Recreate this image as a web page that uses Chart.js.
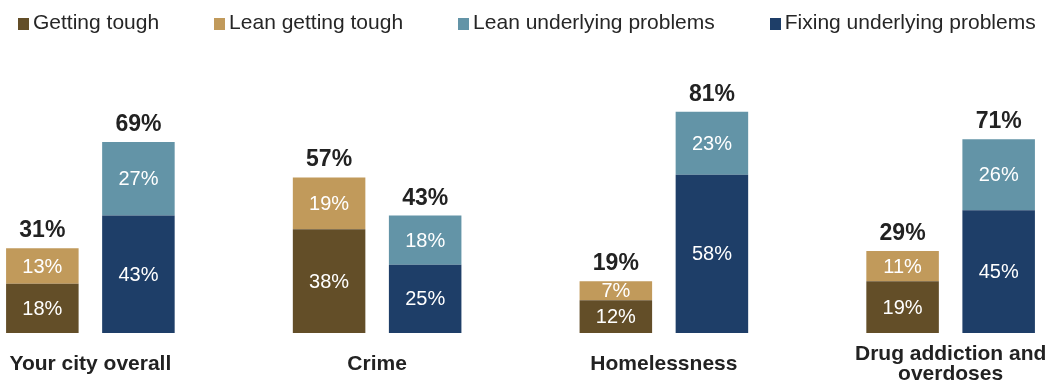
<!DOCTYPE html>
<html>
<head>
<meta charset="utf-8">
<script src="https://cdn.jsdelivr.net/npm/chart.js@4"></script>
<style>
  body { margin: 0; background: #fff; }
  #wrap { position: relative; width: 1045px; height: 386px; overflow: hidden; font-family: "Liberation Sans", Arial, sans-serif; }
  #chart { position: absolute; left: -53px; top: 0; }
  #legend { position: absolute; left: 18px; top: 10px; display: flex; gap: 55px; font-size: 21px; line-height: 24px; color: #262626; white-space: nowrap; }
  #legend span.box { display: inline-block; width: 11px; height: 12px; margin-right: 4px; vertical-align: -1px; }
</style>
</head>
<body>
<div id="wrap">
  <canvas id="chart" width="1147" height="386"></canvas>
  <div id="legend"></div>
</div>
<script>
const categories = ['Your city overall', 'Crime', 'Homelessness', ['Drug addiction and', 'overdoses']];
const gettingTough = [18, 38, 12, 19];
const leanTough = [13, 19, 7, 11];
const leanUnderlying = [27, 18, 23, 26];
const fixingUnderlying = [43, 25, 58, 45];
// totals as printed in the source (rounded separately)
const toughTotals = [31, 57, 19, 29];
const underlyingTotals = [69, 43, 81, 71];

const FONT = '"Liberation Sans", Arial, sans-serif';

// dataset order = stacking order (bottom first)
const datasets = [
  { label: 'Getting tough', data: gettingTough, backgroundColor: '#634E28', stack: 'tough' },
  { label: 'Lean getting tough', data: leanTough, backgroundColor: '#C19A5B', stack: 'tough' },
  { label: 'Fixing underlying problems', data: fixingUnderlying, backgroundColor: '#1E3E68', stack: 'under' },
  { label: 'Lean underlying problems', data: leanUnderlying, backgroundColor: '#6394A7', stack: 'under' }
];
const legendOrder = [0, 1, 3, 2];

// labels inside bars, totals on top, category names underneath
const labelPlugin = {
  id: 'barLabels',
  afterDatasetsDraw(chart) {
    const ctx = chart.ctx;
    ctx.save();
    ctx.textAlign = 'center';
    ctx.textBaseline = 'middle';
    ctx.font = '20px ' + FONT;
    ctx.fillStyle = '#fff';
    chart.data.datasets.forEach((ds, di) => {
      chart.getDatasetMeta(di).data.forEach((bar, i) => {
        ctx.fillText(ds.data[i] + '%', bar.x, (bar.y + bar.base) / 2 + 1);
      });
    });

    ctx.font = 'bold 23px ' + FONT;
    ctx.fillStyle = '#222';
    ctx.textBaseline = 'alphabetic';
    const tops = [[1, toughTotals], [3, underlyingTotals]];
    tops.forEach(([di, totals]) => {
      chart.getDatasetMeta(di).data.forEach((bar, i) => {
        ctx.fillText(totals[i] + '%', bar.x, bar.y - 11);
      });
    });

    const xs = chart.scales.x;
    ctx.font = 'bold 21px ' + FONT;
    ctx.textBaseline = 'middle';
    categories.forEach((c, i) => {
      const lines = Array.isArray(c) ? c : [c];
      const y0 = chart.chartArea.bottom + 31 - (lines.length - 1) * 10;
      lines.forEach((l, j) => ctx.fillText(l, xs.getPixelForValue(i), y0 + j * 20));
    });
    ctx.restore();
  }
};

const chart = new Chart(document.getElementById('chart'), {
  type: 'bar',
  data: { labels: categories, datasets: datasets },
  options: {
    responsive: false,
    animation: false,
    layout: { padding: { top: 60, bottom: 53, left: 0, right: 0 } },
    categoryPercentage: 0.67,
    barPercentage: 0.755,
    plugins: { legend: { display: false }, tooltip: { enabled: false } },
    scales: {
      x: { display: false, stacked: true },
      y: { display: false, stacked: true, min: 0, max: 100 }
    }
  },
  plugins: [labelPlugin]
});

// legend
const legend = document.getElementById('legend');
legendOrder.forEach(di => {
  const ds = datasets[di];
  const item = document.createElement('div');
  item.innerHTML = '<span class="box" style="background:' + ds.backgroundColor + '"></span>' + ds.label;
  legend.appendChild(item);
});
</script>
</body>
</html>
